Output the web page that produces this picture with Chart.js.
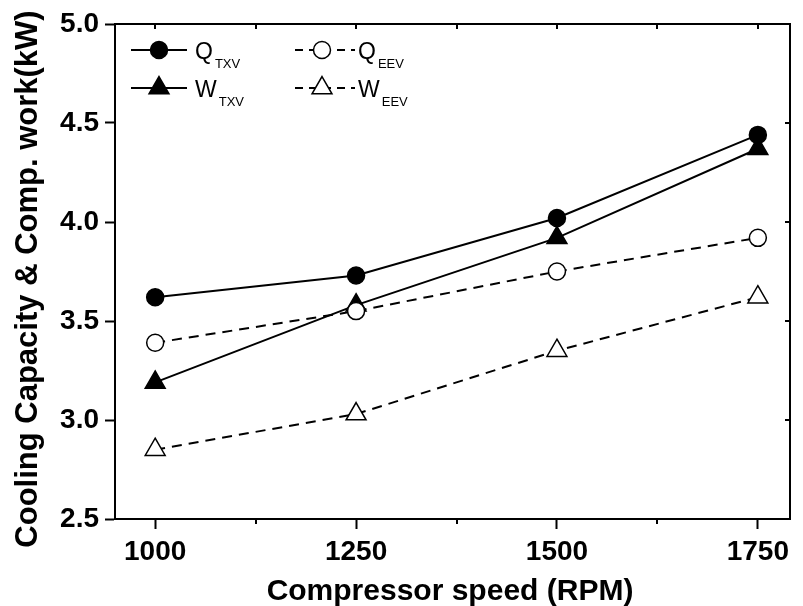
<!DOCTYPE html>
<html>
<head>
<meta charset="utf-8">
<title>Cooling capacity and compressor work</title>
<script src="https://cdn.jsdelivr.net/npm/chart.js@4/dist/chart.umd.min.js"></script>
<style>
html, body { margin: 0; padding: 0; background: #fff; }
canvas { display: block; }
</style>
</head>
<body>
<canvas id="chart" width="803" height="606"></canvas>
<script>
// compressor speed (RPM)
const speeds = [1000, 1250, 1500, 1750];

// cooling capacity (Q) and compressor work (W), kW
const qTxv = [3.62, 3.73, 4.02, 4.44];
const wTxv = [3.19, 3.58, 3.92, 4.37];
const qEev = [3.39, 3.55, 3.75, 3.92];
const wEev = [2.85, 3.03, 3.35, 3.62];

const xTicks = [1000, 1250, 1500, 1750];
const xMinorTicks = [1125, 1375, 1625];
const yTicks = [2.5, 3.0, 3.5, 4.0, 4.5, 5.0];

const FONT = "'Liberation Sans', Arial, sans-serif";

function pts(values){
  return speeds.map((s, i) => ({ x: s, y: values[i] }));
}

function series(label, values, style, filled, dashed, order){
  return {
    label: label,
    data: pts(values),
    order: order,
    borderColor: '#000',
    borderWidth: 2,
    borderDash: dashed ? [10, 7] : [],
    pointStyle: style,
    pointRadius: style === 'triangle' ? 11.5 : 8.5,
    pointBorderWidth: 1.5,
    pointBorderColor: '#000',
    pointBackgroundColor: filled ? '#000' : '#fff',
    fill: false,
    tension: 0
  };
}

// legend in two columns, with subscripted labels ("Q_TXV" -> Q + TXV)
const legendPlugin = {
  id: 'subLegend',
  afterDraw(chart){
    const ctx = chart.ctx;
    const cols = [
      { x0: 131, x1: 187, mx: 159, tx: 195 },
      { x0: 295, x1: 355, mx: 322, tx: 358 }
    ];
    const rows = [50, 88];
    chart.data.datasets.forEach((ds, i) => {
      const c = cols[Math.floor(i / 2)];
      const y = rows[i % 2];
      ctx.save();
      ctx.strokeStyle = '#000';
      ctx.lineWidth = 2;
      ctx.setLineDash(ds.borderDash.length ? [8, 6] : []);
      ctx.beginPath();
      ctx.moveTo(c.x0, y);
      ctx.lineTo(c.x1, y);
      ctx.stroke();
      ctx.setLineDash([]);
      ctx.fillStyle = ds.pointBackgroundColor;
      ctx.strokeStyle = ds.pointBorderColor;
      ctx.lineWidth = ds.pointBorderWidth;
      Chart.helpers.drawPoint(ctx, {
        pointStyle: ds.pointStyle,
        radius: ds.pointRadius,
        borderWidth: ds.pointBorderWidth,
        rotation: 0
      }, c.mx, y);

      const parts = ds.label.split('_');
      ctx.fillStyle = '#000';
      ctx.textBaseline = 'alphabetic';
      ctx.textAlign = 'left';
      ctx.font = '23px ' + FONT;
      ctx.fillText(parts[0], c.tx, y + 9);
      const w = ctx.measureText(parts[0]).width;
      ctx.font = '13px ' + FONT;
      ctx.fillText(parts[1], c.tx + w + 2, y + 18);
      ctx.restore();
    });
  }
};

// closes the box on top and right, adds inner mirror ticks and minor ticks
const framePlugin = {
  id: 'frame',
  afterDraw(chart){
    const ctx = chart.ctx;
    const a = chart.chartArea;
    const xs = chart.scales.x, ys = chart.scales.y;
    ctx.save();
    ctx.strokeStyle = '#000';
    ctx.lineWidth = 2;
    ctx.beginPath();
    ctx.moveTo(a.left - 1, a.top);
    ctx.lineTo(a.right, a.top);
    ctx.lineTo(a.right, a.bottom + 1);
    ctx.stroke();

    ctx.beginPath();
    xTicks.concat(xMinorTicks).forEach(v => {
      const px = Math.round(xs.getPixelForValue(v));
      ctx.moveTo(px, a.top);
      ctx.lineTo(px, a.top + 5);
    });
    xMinorTicks.forEach(v => {
      const px = Math.round(xs.getPixelForValue(v));
      ctx.moveTo(px, a.bottom);
      ctx.lineTo(px, a.bottom + 5);
    });
    yTicks.slice(1, -1).forEach(v => {
      const py = Math.round(ys.getPixelForValue(v));
      ctx.moveTo(a.right, py);
      ctx.lineTo(a.right - 5, py);
    });
    ctx.stroke();
    ctx.restore();
  }
};

// axis titles
const titlePlugin = {
  id: 'axisTitles',
  afterDraw(chart){
    const ctx = chart.ctx;
    ctx.save();
    ctx.fillStyle = '#000';
    ctx.font = 'bold 30px ' + FONT;
    ctx.textAlign = 'center';
    ctx.textBaseline = 'alphabetic';
    ctx.fillText('Compressor speed (RPM)', 450, 600);
    ctx.font = 'bold 31px ' + FONT;
    ctx.translate(28, 279);
    ctx.rotate(-Math.PI / 2);
    ctx.textBaseline = 'middle';
    ctx.fillText('Cooling Capacity & Comp. work(kW)', 0, 0);
    ctx.restore();
  }
};

new Chart(document.getElementById('chart'), {
  type: 'line',
  data: {
    datasets: [
      series('Q_TXV', qTxv, 'circle', true, false, 1),
      series('W_TXV', wTxv, 'triangle', true, false, 2),
      series('Q_EEV', qEev, 'circle', false, true, 0),
      series('W_EEV', wEev, 'triangle', false, true, 3)
    ]
  },
  options: {
    responsive: false,
    animation: false,
    events: [],
    layout: { padding: { top: 24, right: 6, left: 0, bottom: 0 } },
    plugins: {
      legend: { display: false },
      tooltip: { enabled: false }
    },
    scales: {
      x: {
        type: 'linear',
        min: 950,
        max: 1790,
        afterBuildTicks: s => { s.ticks = xTicks.map(v => ({ value: v })); },
        afterFit: s => { s.height = 87; },
        border: { color: '#000', width: 2 },
        grid: { drawOnChartArea: false, drawTicks: true, tickLength: 10, tickWidth: 2, tickColor: '#000' },
        ticks: {
          color: '#000',
          padding: 6,
          maxRotation: 0,
          callback: v => String(v),
          font: { family: FONT, size: 28, weight: 'bold' }
        }
      },
      y: {
        min: 2.5,
        max: 5.0,
        afterBuildTicks: s => { s.ticks = yTicks.map(v => ({ value: v })); },
        afterFit: s => { s.width = 115; },
        border: { color: '#000', width: 2 },
        grid: { drawOnChartArea: false, drawTicks: true, tickLength: 10, tickWidth: 2, tickColor: '#000' },
        ticks: {
          color: '#000',
          padding: 6,
          callback: v => v.toFixed(1),
          font: { family: FONT, size: 28, weight: 'bold' }
        }
      }
    }
  },
  plugins: [legendPlugin, framePlugin, titlePlugin]
});
</script>
</body>
</html>
